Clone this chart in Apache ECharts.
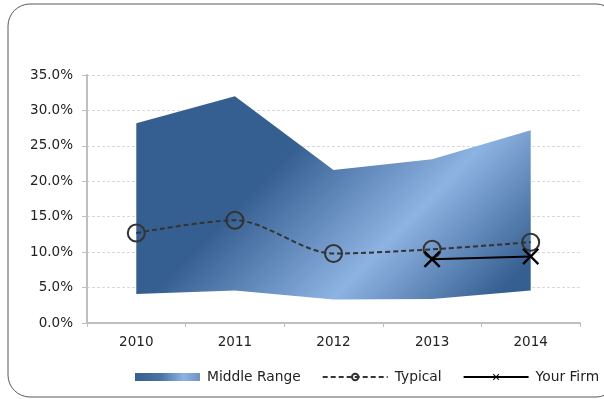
<!DOCTYPE html>
<html>
<head>
<meta charset="utf-8">
<script src="https://cdn.jsdelivr.net/npm/echarts@6/dist/echarts.min.js"></script>
<style>
  html, body { margin: 0; padding: 0; background: #fff; }
  #chart { width: 604px; height: 399px; }
</style>
</head>
<body>
<div id="chart"></div>
<script>
const years = ['2010', '2011', '2012', '2013', '2014'];
const rangeLow = [4.1, 4.6, 3.3, 3.4, 4.6];
const rangeHigh = [28.2, 32.0, 21.6, 23.1, 27.2];
const typical = [12.7, 14.5, 9.8, 10.4, 11.4];
const yourFirm = [null, null, null, 9.0, 9.4];

const DARK = '#365f91';
const LIGHT = '#8db3e2';
const FONT = 'DejaVu Sans';
const crossPath = 'path://M0,1 L1,0 L5,4 L9,0 L10,1 L6,5 L10,9 L9,10 L5,6 L1,10 L0,9 L4,5 Z';

const chart = echarts.init(document.getElementById('chart'));

// diagonal band: dark top-left, light streak through the middle, dark again bottom-right
const areaFill = new echarts.graphic.LinearGradient(0, 0, 1, 1.9, [
    { offset: 0, color: DARK },
    { offset: 0.27, color: DARK },
    { offset: 0.51, color: LIGHT },
    { offset: 0.72, color: DARK },
    { offset: 1, color: DARK }
]);

const legendFill = new echarts.graphic.LinearGradient(0, 0, 1, 0, [
    { offset: 0, color: DARK },
    { offset: 0.4, color: '#4a73a6' },
    { offset: 0.75, color: LIGHT },
    { offset: 1, color: '#6f93c4' }
]);

const option = {
    animation: false,
    backgroundColor: '#fff',
    textStyle: { fontFamily: FONT },
    graphic: [{
        type: 'rect',
        shape: { x: 8, y: 4, width: 610, height: 393, r: 22 },
        style: { fill: 'none', stroke: '#595959', lineWidth: 1 },
        z: -10
    }],
    grid: { left: 87, right: 24, top: 75, bottom: 76 },
    legend: {
        left: 135,
        top: 370,
        padding: 0,
        itemWidth: 65,
        itemHeight: 8,
        itemGap: 21,
        textStyle: { fontFamily: FONT, fontSize: 13.8, color: '#222', padding: [0, 0, 0, 2] },
        data: [
            { name: 'Middle Range', icon: 'rect', itemStyle: { color: legendFill } },
            { name: 'Typical' },
            { name: 'Your Firm' }
        ]
    },
    xAxis: {
        type: 'category',
        data: years,
        boundaryGap: true,
        axisLine: { lineStyle: { color: '#bfbfbf', width: 2 } },
        axisTick: { show: true, length: 4, lineStyle: { color: '#bfbfbf', width: 1 } },
        axisLabel: { fontFamily: FONT, fontSize: 13.5, color: '#222', margin: 12 }
    },
    yAxis: {
        type: 'value',
        min: 0,
        max: 35,
        interval: 5,
        axisLine: { show: true, lineStyle: { color: '#bfbfbf', width: 2 } },
        axisTick: { show: true, length: 5, lineStyle: { color: '#bfbfbf', width: 1 } },
        axisLabel: {
            fontFamily: FONT, fontSize: 13.5, color: '#222', margin: 14,
            formatter: v => v.toFixed(1) + '%'
        },
        splitLine: { lineStyle: { color: '#d9d9d9', type: [3, 2], width: 1 } }
    },
    series: [
        {
            name: 'base',
            type: 'line',
            stack: 'range',
            data: rangeLow,
            symbol: 'none',
            lineStyle: { width: 0, opacity: 0 },
            silent: true
        },
        {
            name: 'Middle Range',
            type: 'line',
            stack: 'range',
            data: rangeHigh.map((v, i) => v - rangeLow[i]),
            symbol: 'none',
            color: DARK,
            lineStyle: { width: 0, opacity: 0 },
            areaStyle: { color: areaFill, opacity: 1 },
            z: 1
        },
        {
            name: 'Typical',
            type: 'line',
            data: typical,
            smooth: 0.3,
            symbol: 'circle',
            symbolSize: 17,
            color: '#333',
            itemStyle: { color: 'rgba(0,0,0,0)', borderColor: '#333', borderWidth: 2 },
            lineStyle: { color: '#333', width: 2, type: [5, 3] },
            z: 3
        },
        {
            name: 'Your Firm',
            type: 'line',
            data: yourFirm,
            symbol: crossPath,
            symbolSize: 17,
            color: '#000',
            itemStyle: { color: '#000' },
            lineStyle: { color: '#000', width: 2 },
            z: 4
        }
    ]
};

chart.setOption(option);
</script>
</body>
</html>
